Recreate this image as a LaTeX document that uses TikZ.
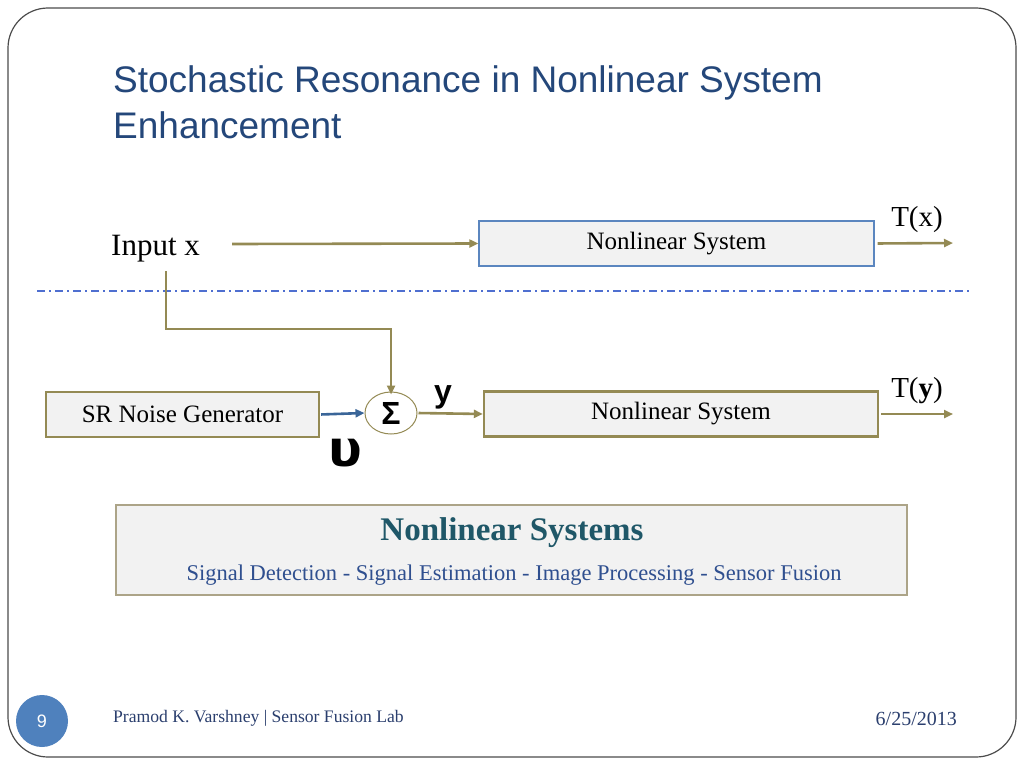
\documentclass[tikz,border=0pt]{standalone}
\usepackage{fontspec}
\setmainfont{Liberation Serif}
\newfontfamily\sansf{Liberation Sans}
\newfontfamily\dejaf{DejaVu Sans}
\usetikzlibrary{arrows.meta,shapes.geometric,calc}
\definecolor{olive}{HTML}{948A54}
\definecolor{boxblue}{HTML}{5B86BF}
\definecolor{dashblue}{HTML}{4F6FD0}
\definecolor{arrblue}{HTML}{3A6598}
\definecolor{boxfill}{HTML}{F2F2F2}
\definecolor{titleblue}{HTML}{24477A}
\definecolor{teal}{HTML}{1F5768}
\definecolor{subblue}{HTML}{2F4F8F}
\definecolor{footblue}{HTML}{2B3F6E}
\definecolor{circblue}{HTML}{4F81BD}
\definecolor{bottomborder}{HTML}{ACA488}
\tikzset{
  sysbox/.style={draw=olive, line width=2.4pt, fill=boxfill, minimum height=45pt, inner sep=0pt, font=\fontsize{25}{30}\selectfont},
  arr/.style={draw=olive, line width=2.6pt, -{Triangle[length=9pt,width=8pt]}},
  lbl/.style={inner sep=0pt, font=\fontsize{29}{34}\selectfont},
}
\begin{document}
\begin{tikzpicture}[x=1pt,y=-1pt]
\useasboundingbox (0,0) rectangle (1024,768);
\fill[white] (0,0) rectangle (1024,768);
% slide frame
\draw[draw=black!70, line width=1.2pt, rounded corners=40pt] (8,8) rectangle (1016,757);
% title
\node[anchor=base west, inner sep=0pt, text=titleblue, font=\sansf\fontsize{37}{46}\selectfont] (t1) at (113,92) {Stochastic Resonance in Nonlinear System};
\node[anchor=base west, inner sep=0pt, text=titleblue, font=\sansf\fontsize{37}{46}\selectfont] (t2) at (113,138) {Enhancement};
% top path
\node[lbl, anchor=base west, font=\fontsize{31}{36}\selectfont] (in) at (111,255) {Input x};
\coordinate (inarr) at (232,244);
\node[sysbox, draw=boxblue, line width=1.4pt, minimum width=395pt] (ns1) at (676.5,243.5) {Nonlinear System};
\coordinate (tx) at (953,243);
\node[lbl, anchor=base] (txl) at (917,226) {T(x)};
\draw[arr] (inarr) -- (ns1.west);
\draw[arr] (ns1.east) [shorten <=3pt] -- (tx);
% separator
\coordinate (sepL) at (37,291);
\coordinate (sepR) at (971,291);
\draw[dashblue, line width=1.3pt, dash pattern=on 8pt off 4pt on 2pt off 4pt] (sepL) -- (sepR);
% lower path
\node[sysbox, minimum width=273pt] (sr) at (182.5,414.5) {SR Noise Generator};
\node[ellipse, draw=olive, line width=1pt, fill=white, minimum width=52pt, minimum height=42pt, inner sep=0pt, font=\sansf\bfseries\fontsize{32}{32}\selectfont] (sig) at (391,413) {Σ};
\node[sysbox, minimum width=394pt] (ns2) at (681,414) {Nonlinear System};
\coordinate (ty) at (953,414);
\coordinate (tap) at (166,271);
\node[lbl, anchor=base] (tyl) at (917,397) {T(\textbf{y})};
\node[inner sep=0pt, anchor=base, font=\sansf\bfseries\fontsize{32}{34}\selectfont] (yl) at (443,402) {y};
\node[inner sep=0pt, anchor=base, font=\dejaf\bfseries\fontsize{50}{52}\selectfont] (ul) at (345,466) {υ};
\draw[arr] (tap) -- ++(0,58) -| ([yshift=-3pt]sig.north);
\draw[draw=arrblue, line width=2.6pt, -{Triangle[length=9pt,width=8pt]}] (sr.east) [shorten <=1pt] -- (sig.west);
\draw[arr] (sig.east) [shorten <=1pt] -- (ns2.west);
\draw[arr] (ns2.east) [shorten <=2pt] -- (ty);
% bottom box
\node[draw=bottomborder, line width=2pt, fill=boxfill, minimum width=791pt, minimum height=90pt, inner sep=0pt] (nls) at (511.5,550) {};
\node[inner sep=0pt, anchor=base, text=teal, font=\bfseries\fontsize{33}{36}\selectfont] (nlst) at (512,540) {Nonlinear Systems};
\node[inner sep=0pt, anchor=base, text=subblue, font=\fontsize{22.5}{26}\selectfont] (nlss) at (514,580) {Signal Detection - Signal Estimation - Image Processing - Sensor Fusion};
% footer
\node[circle, fill=circblue, minimum size=52pt, inner sep=0pt, text=white, font=\sansf\fontsize{18}{20}\selectfont] (pg) at (42,721) {9};
\node[inner sep=0pt, anchor=base west, text=footblue, font=\fontsize{17.6}{20}\selectfont] (ft) at (113,722) {Pramod K. Varshney | Sensor Fusion Lab};
\node[inner sep=0pt, anchor=base east, text=footblue, font=\fontsize{20}{22}\selectfont] (dt) at (957,725) {6/25/2013};
\end{tikzpicture}
\end{document}
